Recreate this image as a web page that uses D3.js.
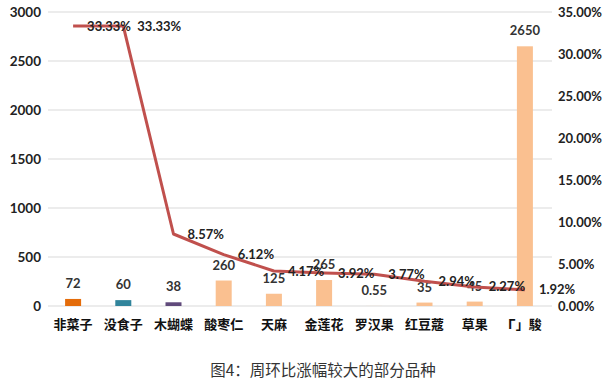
<!DOCTYPE html>
<html><head><meta charset="utf-8">
<script src="https://cdn.jsdelivr.net/npm/d3@7"></script>
<style>body{margin:0;background:#fff}svg{display:block}</style>
</head><body>
<svg id="c" width="613" height="384"></svg>
<script>
const categories = ["非菜子","没食子","木蝴蝶","酸枣仁","天麻","金莲花","罗汉果","红豆蔻","草果","Γ」駿"];
const prices = [72,60,38,260,125,265,0.55,35,45,2650];
const priceLabels = ["72","60","38","260","125","265","0.55","35","45","2650"];
const changes = [33.33,33.33,8.57,6.12,4.17,3.92,3.77,2.94,2.27,1.92];
const barColors = ["#E46C0A","#31849B","#604A7B","#FAC090","#FAC090","#FAC090","#FAC090","#FAC090","#FAC090","#FAC090"];
const leftTicks = [0,500,1000,1500,2000,2500,3000];
const rightTicks = [0,5,10,15,20,25,30,35];
const title = "图4：周环比涨幅较大的部分品种";

const svg = d3.select("#c");
const m = {l:48, r:63, t:12, b:78};
const W = 613, H = 384;
const x = d3.scaleBand().domain(categories).range([m.l, W - m.r]).paddingInner(0).paddingOuter(0);
const yL = d3.scaleLinear().domain([0,3000]).range([H - m.b, m.t]);
const yR = d3.scaleLinear().domain([0,35]).range([H - m.b, m.t]);
const numFont = "Lato, 'Open Sans', sans-serif";
const cjkFont = "'Noto Sans CJK SC', sans-serif";

// gridlines
svg.append("g").selectAll("line").data(leftTicks).join("line")
  .attr("x1", m.l).attr("x2", W - m.r + 2)
  .attr("y1", d => yL(d)).attr("y2", d => yL(d))
  .attr("stroke", "#D9D9D9").attr("stroke-width", 1);

// left axis
const gL = svg.append("g").attr("transform", `translate(${m.l - 7},0)`)
  .call(d3.axisLeft(yL).tickValues(leftTicks).tickSize(0).tickPadding(0).tickFormat(d3.format("d")));
gL.select(".domain").remove();
gL.selectAll("text").attr("font-family", numFont).attr("font-weight", "bold").attr("font-size", 13.5).attr("fill", "#222");

// right axis
const gR = svg.append("g").attr("transform", `translate(${W - m.r + 8},0)`)
  .call(d3.axisRight(yR).tickValues(rightTicks).tickSize(0).tickPadding(0).tickFormat(d => d.toFixed(2) + "%"));
gR.select(".domain").remove();
gR.selectAll("text").attr("font-family", numFont).attr("font-weight", "bold").attr("font-size", 13).attr("fill", "#222");

// bars
const bw = 16;
svg.append("g").selectAll("rect").data(prices).join("rect")
  .attr("x", (d,i) => x(categories[i]) + x.bandwidth()/2 - bw/2)
  .attr("width", bw)
  .attr("y", d => yL(d))
  .attr("height", d => yL(0) - yL(d))
  .attr("fill", (d,i) => barColors[i]);

// bar labels
svg.append("g").selectAll("text").data(prices).join("text")
  .attr("x", (d,i) => x(categories[i]) + x.bandwidth()/2)
  .attr("y", d => yL(d) - 11)
  .attr("text-anchor", "middle")
  .attr("font-family", numFont).attr("font-weight", "bold").attr("font-size", 13)
  .attr("fill", "#333")
  .text((d,i) => priceLabels[i]);

// x labels
svg.append("g").selectAll("text").data(categories).join("text")
  .attr("x", d => x(d) + x.bandwidth()/2)
  .attr("y", yL(0) + 23)
  .attr("text-anchor", "middle")
  .attr("font-family", cjkFont).attr("font-weight", "bold").attr("font-size", 13)
  .attr("fill", "#111")
  .text(d => d);

// line
const line = d3.line().x((d,i) => x(categories[i]) + x.bandwidth()/2).y(d => yR(d));
svg.append("path").datum(changes)
  .attr("d", line).attr("fill", "none")
  .attr("stroke", "#C0504D").attr("stroke-width", 3).attr("stroke-linejoin", "round");

// line labels
svg.append("g").selectAll("text").data(changes).join("text")
  .attr("x", (d,i) => x(categories[i]) + x.bandwidth()/2 + 14)
  .attr("y", d => yR(d))
  .attr("dy", "0.35em")
  .attr("font-family", numFont).attr("font-weight", "bold").attr("font-size", 13)
  .attr("fill", "#222")
  .text(d => d.toFixed(2) + "%");

// title
svg.append("text").attr("x", 323).attr("y", 376)
  .attr("text-anchor", "middle")
  .attr("font-family", cjkFont).attr("font-size", 15.5).attr("fill", "#333")
  .text(title);
</script>
</body></html>
